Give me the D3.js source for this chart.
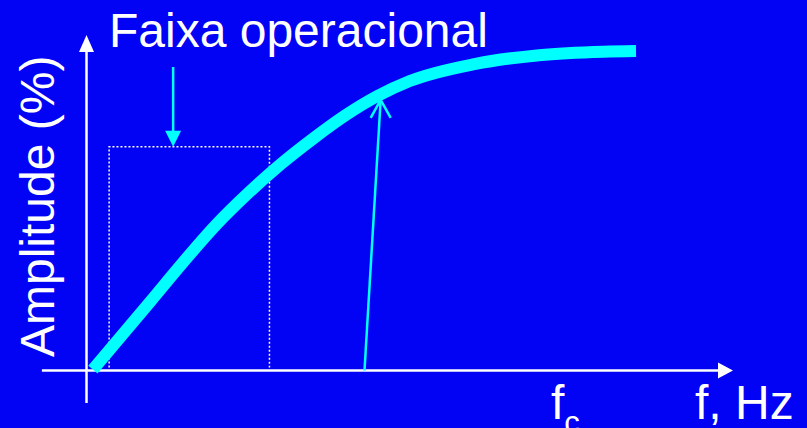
<!DOCTYPE html>
<html>
<head>
<meta charset="utf-8">
<script src="https://cdn.jsdelivr.net/npm/d3@7"></script>
<style>
  html, body { margin: 0; padding: 0; background: #0202f4; overflow: hidden; }
  svg { display: block; }
  text { font-family: "Liberation Sans", Arial, sans-serif; fill: #fff; }
</style>
</head>
<body>
<div id="chart"></div>
<script>
// curve (frequency, arbitrary units / amplitude %)
const freq = [0.1, 1, 1.5, 2, 2.5, 3, 3.5, 4, 4.5, 5, 6, 7, 8, 8.5];
const amplitude = [0.3, 21.9, 34, 45.5, 55.5, 64.5, 72.5, 79.8, 85.9, 90.6, 95.9, 98.7, 99.8, 100];

// operating band
const bandFreq = [0.35, 2.83];
const bandTop = 70;
const bandArrowFreq = 1.34;
const bandArrowAmp = [95, 70];

// arrow to the curve
const cutoffArrowFreq = [4.3, 4.55];
const cutoffArrowAmp = [0, 84.7];

// axes extent
const xAxisExtent = [-0.69, 10];
const yAxisExtent = [-10.2, 105];

const labels = { y: "Amplitude (%)", band: "Faixa operacional", fc: "f", fcSub: "c", x: "f, Hz" };

const width = 807, height = 428;
const cyan = "#00ffff";

const svg = d3.select("#chart").append("svg")
  .attr("width", width)
  .attr("height", height);

svg.append("rect").attr("width", width).attr("height", height).attr("fill", "#0202f4");

//scales
const x = d3.scaleLinear().domain([0, 10]).range([86.5, 733]);
const y = d3.scaleLinear().domain([0, 100]).range([370.5, 51]);

//axes
svg.append("line")
  .attr("x1", x(xAxisExtent[0])).attr("x2", x(xAxisExtent[1]) - 10)
  .attr("y1", y(0)).attr("y2", y(0))
  .attr("stroke", "#fff").attr("stroke-width", 2.5);
svg.append("path")
  .attr("d", `M${x(xAxisExtent[1])},${y(0)} L${x(xAxisExtent[1]) - 15},${y(0) - 8} L${x(xAxisExtent[1]) - 15},${y(0) + 8} Z`)
  .attr("fill", "#fff");

svg.append("line")
  .attr("x1", x(0)).attr("x2", x(0))
  .attr("y1", y(yAxisExtent[0])).attr("y2", y(yAxisExtent[1]) + 10)
  .attr("stroke", "#fff").attr("stroke-width", 2.5);
svg.append("path")
  .attr("d", `M${x(0)},${y(yAxisExtent[1])} L${x(0) - 7.5},${y(yAxisExtent[1]) + 17} L${x(0) + 7.5},${y(yAxisExtent[1]) + 17} Z`)
  .attr("fill", "#fff");

//operating band (dotted box, open at the bottom)
svg.append("path")
  .attr("d", `M${x(bandFreq[0])},${y(0) - 3} V${y(bandTop)} H${x(bandFreq[1])} V${y(0) - 3}`)
  .attr("fill", "none")
  .attr("stroke", "#fff")
  .attr("stroke-width", 1.5)
  .attr("stroke-dasharray", "2,2");

//band arrow
svg.append("line")
  .attr("x1", x(bandArrowFreq)).attr("x2", x(bandArrowFreq))
  .attr("y1", y(bandArrowAmp[0])).attr("y2", y(bandArrowAmp[1]) - 14)
  .attr("stroke", cyan).attr("stroke-width", 2.5);
svg.append("path")
  .attr("d", `M${x(bandArrowFreq)},${y(bandArrowAmp[1])} L${x(bandArrowFreq) - 8},${y(bandArrowAmp[1]) - 16} L${x(bandArrowFreq) + 8},${y(bandArrowAmp[1]) - 16} Z`)
  .attr("fill", cyan);

//curve
const line = d3.line()
  .x((d) => x(d[0]))
  .y((d) => y(d[1]))
  .curve(d3.curveMonotoneX);

svg.append("path")
  .datum(freq.map((f, i) => [f, amplitude[i]]))
  .attr("d", line)
  .attr("fill", "none")
  .attr("stroke", cyan)
  .attr("stroke-width", 12);

//arrow to curve
const ax0 = x(cutoffArrowFreq[0]), ay0 = y(cutoffArrowAmp[0]);
const ax1 = x(cutoffArrowFreq[1]), ay1 = y(cutoffArrowAmp[1]);
svg.append("line")
  .attr("x1", ax0).attr("y1", ay0).attr("x2", ax1).attr("y2", ay1)
  .attr("stroke", cyan).attr("stroke-width", 2.5);
svg.append("path")
  .attr("d", `M${ax1 - 10},${ay1 + 18} L${ax1},${ay1} L${ax1 + 10},${ay1 + 18}`)
  .attr("fill", "none")
  .attr("stroke", cyan)
  .attr("stroke-width", 2.5);

//labels
svg.append("text")
  .attr("transform", "translate(54,357) rotate(-90)")
  .attr("font-size", 48)
  .text(labels.y);

svg.append("text")
  .attr("x", 109).attr("y", 47)
  .attr("font-size", 48)
  .text(labels.band);

const fc = svg.append("text")
  .attr("x", 551).attr("y", 419)
  .attr("font-size", 48);
fc.append("tspan").text(labels.fc);
fc.append("tspan").attr("font-size", 31).attr("dy", 14).text(labels.fcSub);

svg.append("text")
  .attr("x", 695).attr("y", 419)
  .attr("font-size", 48)
  .text(labels.x);
</script>
</body>
</html>
